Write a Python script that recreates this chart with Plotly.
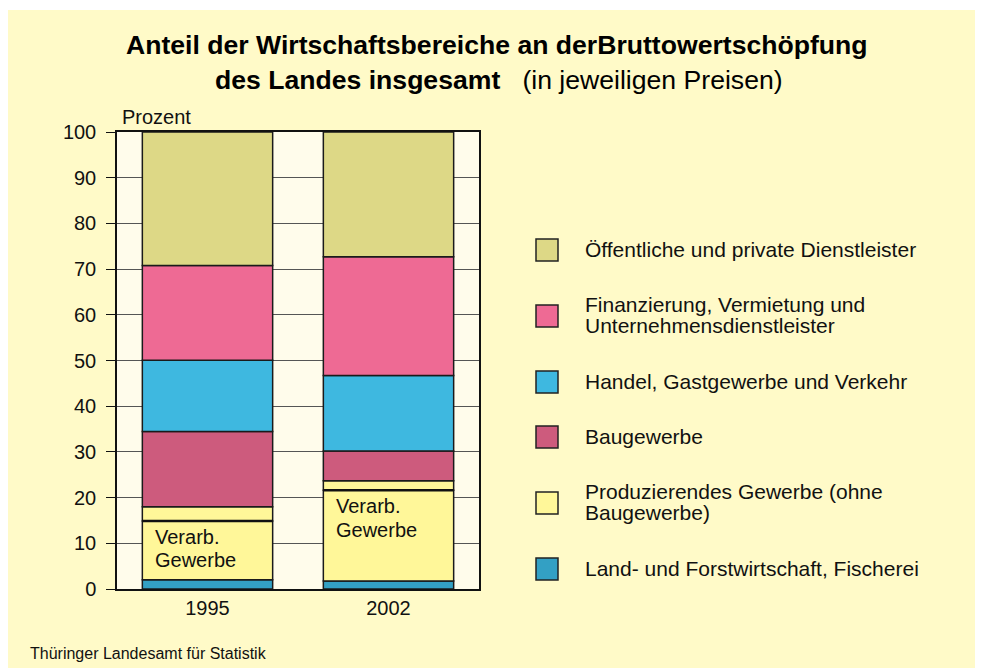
import numpy as np
import plotly.graph_objects as go

# ---------------- data ----------------
years = ["1995", "2002"]
land = [2.0, 1.75]            # Land- und Forstwirtschaft, Fischerei
verarb = [12.9, 19.85]        # Verarbeitendes Gewerbe
sonst_prod = [3.1, 2.1]       # übriges Produzierendes Gewerbe (ohne Bau)
bau = [16.45, 6.5]            # Baugewerbe
handel = [15.6, 16.5]         # Handel, Gastgewerbe und Verkehr
finanz = [20.75, 26.0]        # Finanzierung, Vermietung, Unternehmensdienstleister
oeff = [29.2, 27.3]           # Öffentliche und private Dienstleister

y_ticks = [0, 10, 20, 30, 40, 50, 60, 70, 80, 90, 100]

legend_items = [
    (["Öffentliche und private Dienstleister"], "#DDD886"),
    (["Finanzierung, Vermietung und", "Unternehmensdienstleister"], "#EE6A94"),
    (["Handel, Gastgewerbe und Verkehr"], "#3EB8E0"),
    (["Baugewerbe"], "#CD5B7D"),
    (["Produzierendes Gewerbe (ohne", "Baugewerbe)"], "#FFF799"),
    (["Land- und Forstwirtschaft, Fischerei"], "#33A0C4"),
]

C_OEFF, C_FIN, C_HANDEL, C_BAU, C_PROD, C_LAND = [c for _, c in legend_items]

FONT = "Arial, 'Liberation Sans', sans-serif"
# page has an 8px body margin
OFF = 8
W, H = 983 - OFF, 668 - OFF
L, R, T = 117 - OFF, 983 - 479, 132 - OFF
B = H - T - 457
PW, PH = W - L - R, H - T - B


def px(x):
    """screen x (window pixels) -> paper x"""
    return (x - OFF - L) / PW


def py(y):
    """screen y (window pixels) -> paper y"""
    return (H - B - (y - OFF)) / PH


fig = go.Figure()

segments = [
    (land, C_LAND),
    (verarb, C_PROD),
    (sonst_prod, C_PROD),
    (bau, C_BAU),
    (handel, C_HANDEL),
    (finanz, C_FIN),
    (oeff, C_OEFF),
]

base = np.zeros(len(years))
for vals, col in segments:
    fig.add_trace(go.Bar(
        x=years, y=vals, base=base.copy(), width=0.72,
        marker=dict(color=col, line=dict(color="#1a1a1a", width=1.5)),
        showlegend=False, hoverinfo="skip",
    ))
    base = base + np.array(vals)

# thick divider on top of "Verarb. Gewerbe"
verarb_top = np.array(land) + np.array(verarb)
fig.add_trace(go.Bar(
    x=years, y=[0.55] * len(years), base=verarb_top - 0.275, width=0.72,
    marker=dict(color="#111111", line=dict(width=0)),
    showlegend=False, hoverinfo="skip",
))

annotations = []

# Verarb. Gewerbe labels (category index 0 / 1)
for idx, y1, y2 in [(0, 11.4, 6.3), (1, 18.1, 12.9)]:
    for txt, yy in [("Verarb.", y1), ("Gewerbe", y2)]:
        annotations.append(dict(
            x=idx, y=yy, xref="x", yref="y", text=txt, showarrow=False,
            xanchor="left", yanchor="middle", xshift=-55,
            font=dict(family=FONT, size=20, color="#111"),
        ))

# titles
annotations.append(dict(
    x=px(497), y=py(45), xref="paper", yref="paper", showarrow=False,
    text="<b>Anteil der Wirtschaftsbereiche an derBruttowertschöpfung</b>",
    xanchor="center", yanchor="middle",
    font=dict(family=FONT, size=26.6, color="#000"),
))
annotations.append(dict(
    x=px(499), y=py(80), xref="paper", yref="paper", showarrow=False,
    text="<b>des Landes insgesamt</b>\u00a0\u00a0\u00a0(in jeweiligen Preisen)",
    xanchor="center", yanchor="middle",
    font=dict(family=FONT, size=26.6, color="#000"),
))
annotations.append(dict(
    x=px(120), y=py(117), xref="paper", yref="paper", showarrow=False,
    text="Prozent", xanchor="left", yanchor="middle",
    font=dict(family=FONT, size=20, color="#111"),
))
annotations.append(dict(
    x=px(28), y=py(653), xref="paper", yref="paper", showarrow=False,
    text="Thüringer Landesamt für Statistik", xanchor="left", yanchor="middle",
    font=dict(family=FONT, size=16, color="#111"),
))

shapes = []
# thin white strip at top (panel starts slightly lower)
shapes.append(dict(type="rect", xref="paper", yref="paper",
                   x0=px(0), x1=px(983), y0=py(8), y1=py(10),
                   fillcolor="white", line=dict(width=0), layer="below"))

# custom legend
centers = [250, 316, 382, 437, 503, 569]
for (lines, col), cy in zip(legend_items, centers):
    shapes.append(dict(type="rect", xref="paper", yref="paper",
                       x0=px(536), x1=px(558), y0=py(cy - 11), y1=py(cy + 11),
                       fillcolor=col, line=dict(color="#222", width=1.5)))
    if len(lines) == 1:
        offs = [-1]
    else:
        offs = [-12, 9]
    for txt, o in zip(lines, offs):
        annotations.append(dict(
            x=px(583), y=py(cy + o), xref="paper", yref="paper", showarrow=False,
            text=txt, xanchor="left", yanchor="middle",
            font=dict(family=FONT, size=21, color="#111"),
        ))

fig.update_layout(
    width=W, height=H,
    margin=dict(l=L, r=R, t=T, b=B, pad=0),
    paper_bgcolor="#FFFAC8",
    plot_bgcolor="#FFFCEB",
    barmode="overlay",
    showlegend=False,
    annotations=annotations,
    shapes=shapes,
    font=dict(family=FONT, color="#111"),
)

fig.update_xaxes(
    type="category", range=[-0.5, 1.5],
    showline=True, linecolor="#111", linewidth=1.5, mirror=True,
    ticks="", showgrid=False, automargin=False,
    tickfont=dict(family=FONT, size=20, color="#111"),
)
fig.update_yaxes(
    range=[0, 100], tickvals=y_ticks, ticktext=[str(v) for v in y_ticks],
    showline=True, linecolor="#111", linewidth=1.5, mirror=True,
    ticks="outside", ticklen=9, tickcolor="#111", tickwidth=1.2,
    ticklabelstandoff=6,
    showgrid=True, gridcolor="#555", gridwidth=1, zeroline=False,
    automargin=False,
    tickfont=dict(family=FONT, size=20, color="#111"),
)

fig.write_html("out.html")
